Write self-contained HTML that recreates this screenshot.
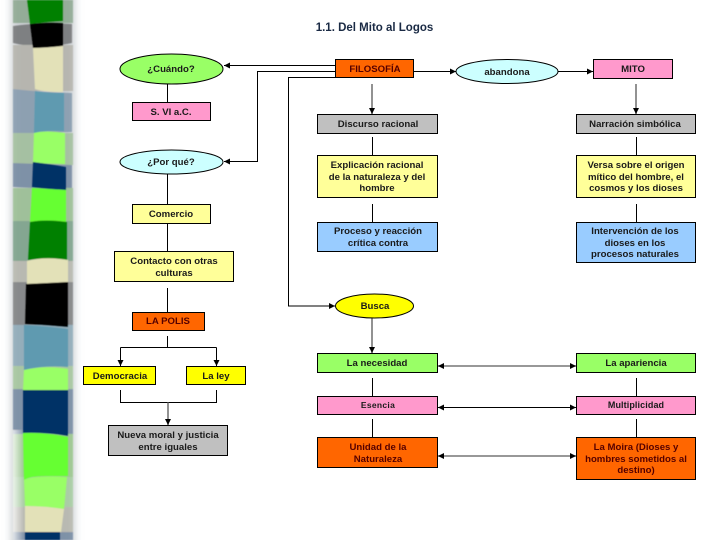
<!DOCTYPE html>
<html><head><meta charset="utf-8"><style>
html,body{margin:0;padding:0;background:#fff;width:720px;height:540px;overflow:hidden}
svg{display:block}
text{font-family:"Liberation Sans",sans-serif;font-weight:bold;font-size:9.6px;text-anchor:middle;fill:#1a1a1a;letter-spacing:0}
.b{stroke:#000;stroke-width:1}
.l{stroke:#000;stroke-width:1;fill:none}
.g{stroke:#777;stroke-width:1.6;fill:none}
.o{fill:#500}
</style></head><body>
<svg width="720" height="540" viewBox="0 0 720 540" xmlns="http://www.w3.org/2000/svg">
<defs>
<filter id="bl" x="-50%" y="-5%" width="200%" height="110%"><feGaussianBlur stdDeviation="4"/></filter>
<filter id="sb" x="-5%" y="-5%" width="110%" height="110%"><feGaussianBlur stdDeviation=".4"/></filter>
<linearGradient id="fade" x1="0" x2="1" y1="0" y2="0"><stop offset="0" stop-color="#fff" stop-opacity=".75"/><stop offset="1" stop-color="#fff" stop-opacity="0"/></linearGradient>
<marker id="a" markerWidth="7" markerHeight="7" refX="6" refY="3" orient="auto-start-reverse" markerUnits="userSpaceOnUse"><path d="M0,0L6,3L0,6z" fill="#000"/></marker>
</defs>
<rect x="11" y="-10" width="64" height="560" fill="#ccd0d4" filter="url(#bl)"/>
<g filter="url(#sb)">
<!-- pale side strips -->
<g opacity=".5">
<rect x="13" y="0" width="60" height="23" fill="#5f8a5f"/>
<path d="M13 26Q40 22 72 24V43Q40 50 13 43z" fill="#333"/>
<rect x="13" y="45" width="60" height="46" fill="#a09c8c"/>
<path d="M13 89Q40 92 72 93V132L13 134z" fill="#4f7390"/>
<rect x="13" y="133" width="60" height="32" fill="#80b070"/>
<path d="M13 163L72 165V190L13 187z" fill="#34527a"/>
<rect x="13" y="188" width="60" height="34" fill="#75b060"/>
<rect x="13" y="221" width="60" height="41" fill="#3f7f50"/>
<rect x="13" y="261" width="60" height="22" fill="#a5a290"/>
<rect x="13" y="282" width="60" height="44" fill="#444"/>
<rect x="13" y="325" width="60" height="42" fill="#5f8ba0"/>
<rect x="13" y="366" width="60" height="24" fill="#85bb70"/>
<rect x="13" y="389" width="60" height="46" fill="#34527a"/>
<rect x="13" y="434" width="60" height="44" fill="#70bb55"/>
<rect x="13" y="477" width="60" height="31" fill="#88c878"/>
<rect x="13" y="507" width="60" height="26" fill="#a5a290"/>
<rect x="13" y="532" width="60" height="8" fill="#34527a"/>
</g>
<rect x="13" y="430" width="11" height="110" fill="url(#fade)"/>
<!-- main bands -->
<path d="M27 0H63V21Q45 22 30 24z" fill="#008000"/>
<path d="M30 24Q45 22 63 23V46Q45 48 33 48z" fill="#000"/>
<path d="M33 48Q45 48 63 46V92Q45 92 35 89z" fill="#e3e1b8"/>
<path d="M35 91Q45 93 64 93V131Q45 130 34 133z" fill="#5f9ab0"/>
<path d="M34 133Q45 130 65 133V164L33 163z" fill="#99ff66"/>
<path d="M33 162Q50 164 66 167V190Q45 189 32 187z" fill="#003366"/>
<path d="M32 188L66 190V222Q45 220 30 222z" fill="#66ff33"/>
<path d="M30 222Q45 219 67 222V260Q45 257 28 260z" fill="#008000"/>
<path d="M27 261Q45 256 68 260V284H27z" fill="#e3e1b8"/>
<path d="M26 284L68 282V327Q45 325 25 324z" fill="#000"/>
<path d="M24 325Q45 326 68 329V367Q45 365 24 370z" fill="#5f9ab0"/>
<path d="M24 370Q45 365 68 369V390H23z" fill="#99ff66"/>
<path d="M23 390H68V436Q45 432 23 433z" fill="#003366"/>
<path d="M23 433Q45 432 68 437V476L45 476Q30 476 24 480z" fill="#66ff33"/>
<path d="M24 480Q35 475 67 477L64 509Q45 506 25 506z" fill="#99ff66"/>
<path d="M25 506Q45 506 64 509L61 532L25 532z" fill="#e3e1b8"/>
<path d="M25 532H60V540H25z" fill="#003366"/>
</g>
<text x="374.500" y="31" style="font-size:11.500px;fill:#1a2a44">1.1. Del Mito al Logos</text>

<!-- connectors -->
<path class="l" d="M167.500 84V102M167.500 174V204M167.500 223V251M167.500 288V312" />
<path class="l" d="M335 65.500H224" marker-end="url(#a)"/>
<path class="l" d="M335 71.500H257.500V161.500H224" marker-end="url(#a)"/>
<path class="l" d="M335 77.500H288.500V306H335" marker-end="url(#a)"/>
<path class="g" d="M372 84V114" marker-end="url(#a)"/>
<path class="l" d="M372.500 137V155M372.500 204V222"/>
<path class="l" d="M414 71.500H456" marker-end="url(#a)"/>
<path class="l" d="M558 71.500H593" marker-end="url(#a)"/>
<path class="g" d="M636 84V114" marker-end="url(#a)"/>
<path class="l" d="M636.500 137V155M636.500 204V222"/>
<path class="l" d="M167.500 336V347.500"/>
<path class="l" d="M120.500 347.500H216.500"/>
<path class="l" d="M120.500 347.500V366" marker-end="url(#a)"/>
<path class="l" d="M216.500 347.500V366" marker-end="url(#a)"/>
<path class="l" d="M120.500 390V402.500H216.500V390"/>
<path class="g" d="M168 402.500V425" marker-end="url(#a)"/>
<path class="g" d="M372 318V353" marker-end="url(#a)"/>
<path class="l" d="M372.500 378V396M372.500 419V437M636.500 378V396M636.500 419V437"/>
<path class="g" d="M438 366H576" marker-start="url(#a)" marker-end="url(#a)"/>
<path class="l" d="M438 407.500H576" marker-start="url(#a)" marker-end="url(#a)"/>
<path class="g" d="M438 456H576" marker-start="url(#a)" marker-end="url(#a)"/>

<!-- left column -->
<ellipse class="b" cx="171.500" cy="69" rx="51.500" ry="15" fill="#99ff66"/>
<text x="171" y="72">¿Cuándo?</text>
<rect class="b" x="132.500" y="102.500" width="78" height="18" fill="#ff99cc"/>
<text x="171" y="115">S. VI a.C.</text>
<ellipse class="b" cx="171.500" cy="162" rx="51.500" ry="12" fill="#ccffff"/>
<text x="171" y="165">¿Por qué?</text>
<rect class="b" x="132.500" y="204.500" width="78" height="19" fill="#ffff99"/>
<text x="171" y="217">Comercio</text>
<rect class="b" x="114.500" y="251.500" width="119" height="30" fill="#ffff99"/>
<text x="174" y="264">Contacto con otras</text>
<text x="174" y="276">culturas</text>
<rect class="b" x="132.500" y="312.500" width="72" height="18" fill="#ff6600"/>
<text class="o" x="168" y="324">LA POLIS</text>
<rect class="b" x="83.500" y="366.500" width="72" height="18" fill="#ffff00"/>
<text x="120" y="379">Democracia</text>
<rect class="b" x="186.500" y="366.500" width="59" height="18" fill="#ffff00"/>
<text x="216" y="379">La ley</text>
<rect class="b" x="108.500" y="425.500" width="119" height="30" fill="#c0c0c0"/>
<text x="168" y="438">Nueva moral y justicia</text>
<text x="168" y="450">entre iguales</text>

<!-- center column -->
<rect class="b" x="335.500" y="59.500" width="78" height="18" fill="#ff6600"/>
<text class="o" x="375" y="72">FILOSOFÍA</text>
<rect class="b" x="317.500" y="114.500" width="120" height="19" fill="#c0c0c0"/>
<text x="378" y="127">Discurso racional</text>
<rect class="b" x="317.500" y="155.500" width="120" height="42" fill="#ffff99"/>
<text x="377" y="168">Explicación racional</text>
<text x="377" y="180">de la naturaleza y del</text>
<text x="377" y="191">hombre</text>
<rect class="b" x="317.500" y="222.500" width="120" height="29" fill="#99ccff"/>
<text x="378" y="234">Proceso y reacción</text>
<text x="378" y="246">crítica contra</text>
<ellipse class="b" cx="507" cy="71.500" rx="51" ry="12" fill="#ccffff"/>
<text x="507" y="75">abandona</text>
<ellipse class="b" cx="374.500" cy="306" rx="39" ry="12" fill="#ffff00"/>
<text x="375" y="309">Busca</text>
<rect class="b" x="317.500" y="353.500" width="120" height="19" fill="#99ff66"/>
<text x="377" y="366">La necesidad</text>
<rect class="b" x="317.500" y="396.500" width="120" height="18" fill="#ff99cc"/>
<text x="378" y="408" style="font-size:8.500px;letter-spacing:.3px">Esencia</text>
<rect class="b" x="317.500" y="437.500" width="120" height="30" fill="#ff6600"/>
<text class="o" x="378" y="450">Unidad de la</text>
<text class="o" x="378" y="462">Naturaleza</text>

<!-- right column -->
<rect class="b" x="593.500" y="59.500" width="79" height="19" fill="#ff99cc"/>
<text x="633" y="72">MITO</text>
<rect class="b" x="576.500" y="114.500" width="119" height="19" fill="#c0c0c0"/>
<text x="635" y="127">Narración simbólica</text>
<rect class="b" x="576.500" y="155.500" width="119" height="42" fill="#ffff99"/>
<text x="636" y="168">Versa sobre el origen</text>
<text x="636" y="180">mítico del hombre, el</text>
<text x="636" y="191">cosmos y los dioses</text>
<rect class="b" x="576.500" y="222.500" width="119" height="40" fill="#99ccff"/>
<text x="635" y="234">Intervención de los</text>
<text x="635" y="246">dioses en los</text>
<text x="635" y="257">procesos naturales</text>
<rect class="b" x="576.500" y="353.500" width="119" height="19" fill="#99ff66"/>
<text x="636" y="366">La apariencia</text>
<rect class="b" x="576.500" y="396.500" width="119" height="18" fill="#ff99cc"/>
<text x="636" y="408" style="font-size:9px;letter-spacing:.1px">Multiplicidad</text>
<rect class="b" x="576.500" y="437.500" width="119" height="42" fill="#ff6600"/>
<text class="o" x="636" y="450">La Moira (Dioses y</text>
<text class="o" x="636" y="462">hombres sometidos al</text>
<text class="o" x="636" y="473">destino)</text>
</svg>
</body></html>
